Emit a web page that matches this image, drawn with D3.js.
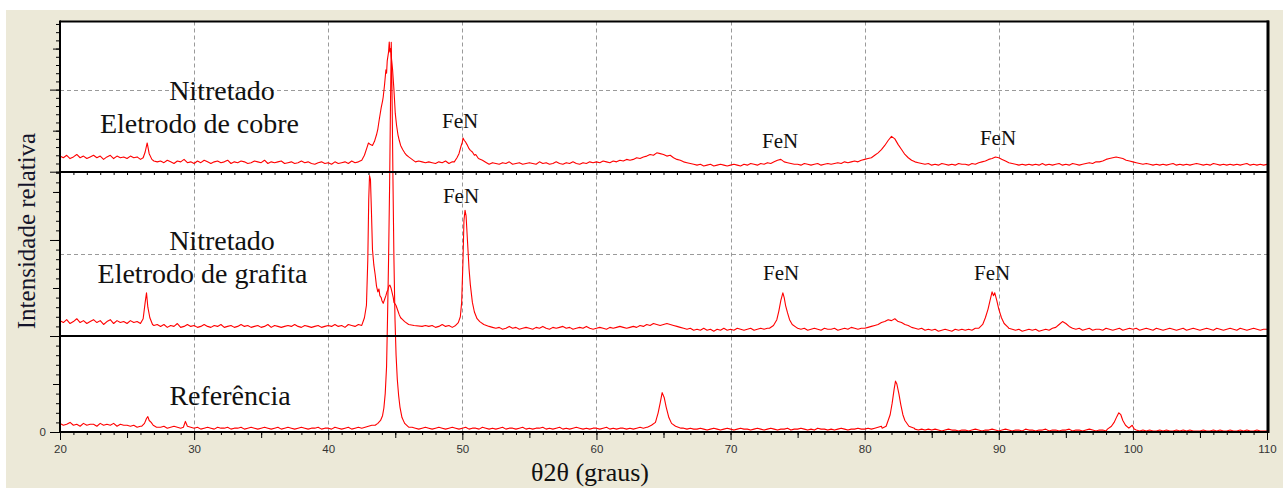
<!DOCTYPE html>
<html>
<head>
<meta charset="utf-8">
<script src="https://cdn.jsdelivr.net/npm/d3@7"></script>
<style>
  body { margin: 0; background: #fff; }
  svg { display: block; }
</style>
</head>
<body>
<div id="chart"></div>
<script>
// 2theta grid of the baseline arrays: 20.00 -> 110.00, every 0.25 deg (10 values per row)
var thetaStart = 20, thetaStep = 0.25;

// Nitretado - eletrodo de cobre (top)
var cobreBase = [
  19,17,20,16,18,21,17,19,16,18,
  20,17,19,15,18,20,16,19,17,18,
  16,19,17,18,15,17,22,14,13,12,
  13,11,14,12,10,13,12,15,11,12,
  10,13,11,14,12,10,12,13,11,12,
  14,10,12,11,13,12,10,11,13,12,
  11,14,10,12,11,12,13,10,11,12,
  10,11,13,11,12,10,9,11,12,10,
  11,9,12,10,11,12,10,13,11,12,
  14,30,35,38,60,100,140,120,60,35,
  25,20,16,14,13,12,11,13,12,11,
  12,11,10,12,11,13,10,12,30,40,
  38,28,22,16,13,11,10,12,9,11,
  10,9,11,10,12,9,10,11,9,10,
  11,10,9,12,10,11,9,10,12,10,
  9,11,10,12,10,9,11,10,12,11,
  12,11,13,12,11,13,12,14,13,15,
  14,15,17,16,18,19,21,20,23,22,
  21,19,20,17,15,14,12,11,10,9,
  8,9,7,8,9,7,8,9,8,7,
  8,9,8,7,9,8,10,9,8,10,
  9,11,10,12,14,15,12,11,10,9,
  9,8,10,9,8,9,10,8,9,10,
  9,10,11,10,12,11,12,13,12,14,
  15,16,17,20,23,27,32,38,43,40,
  33,27,21,17,14,12,11,10,9,10,
  8,9,8,10,9,8,9,8,10,9,
  9,8,10,9,11,12,13,15,16,18,
  17,15,13,11,10,9,8,9,8,9,
  8,9,8,10,8,9,8,9,10,8,
  9,8,10,9,8,9,10,11,10,12,
  12,13,15,16,17,18,17,16,14,13,
  12,11,10,9,10,9,8,9,8,9,
  8,9,10,8,9,8,9,8,9,10,
  9,8,9,8,10,9,8,9,8,9,
  8,9,8,9,10,8,9,8,9,8,
  9
];
var cobrePeaks = [
  [[26.2,17],[26.35,24],[26.5,35],[26.65,22],[26.85,15]],
  [[42.5,14],[42.7,20],[42.9,30],[43.0,35],[43.15,33],[43.3,32],[43.45,37],[43.6,45],[43.7,52],[43.8,63],
   [43.95,78],[44.05,86],[44.1,91],[44.2,106],[44.3,124],[44.35,120],[44.4,135],[44.5,146],[44.55,158],[44.6,146],
   [44.65,150],[44.7,140],[44.8,124],[44.9,100],[45.0,71],[45.1,56],[45.2,45],[45.3,38],[45.4,32],[45.55,27],
   [45.7,23],[45.85,20],[46.0,18],[46.25,15],[46.5,12]],
  [[49.4,12],[49.6,17],[49.75,22],[49.9,31],[50.0,36],[50.05,41],[50.15,38],[50.25,36],[50.35,33],[50.5,28],
   [50.6,26],[50.75,24],[50.9,20],[51.0,21],[51.2,16],[51.5,14],[51.8,11]]
];

// Nitretado - eletrodo de grafita (middle)
var grafitaBase = [
  16,14,17,13,15,18,14,16,13,15,
  17,14,16,12,15,17,13,16,14,15,
  13,16,14,15,12,13,20,14,11,12,
  10,12,9,11,10,13,9,10,12,10,
  11,9,10,12,10,9,11,10,12,9,
  10,11,9,10,12,10,11,9,10,11,
  9,10,12,9,11,10,9,10,11,10,
  12,10,9,11,10,9,10,11,9,10,
  11,10,12,10,11,9,12,11,10,12,
  13,30,160,70,50,40,45,52,40,28,
  34,25,18,15,12,11,10,12,10,11,
  10,11,9,10,12,10,11,9,12,25,
  120,110,50,22,14,11,10,9,8,9,
  8,9,7,8,10,8,9,7,8,9,
  8,7,9,8,10,8,7,9,8,9,
  10,8,9,7,8,9,8,10,8,7,
  8,9,8,7,9,8,9,10,9,8,
  9,10,9,11,10,12,11,13,12,11,
  12,13,12,11,10,9,8,7,8,6,
  7,6,8,6,7,5,7,6,8,6,
  7,6,8,7,6,7,8,6,7,8,
  7,8,9,12,25,45,28,14,9,8,
  8,7,8,6,7,8,7,6,8,7,
  7,8,6,7,8,7,9,8,7,8,
  8,9,10,11,12,14,15,17,16,18,
  15,14,12,11,9,8,7,8,6,7,
  6,7,5,6,7,6,5,7,6,7,
  6,7,6,8,9,15,30,45,40,30,
  25,15,10,8,7,6,7,5,6,7,
  6,7,5,6,7,6,8,9,12,15,
  13,10,8,7,8,6,7,8,6,7,
  7,6,8,7,6,7,8,6,7,8,
  7,8,6,7,8,7,6,8,7,6,
  7,8,7,6,7,8,6,7,8,7,
  6,7,8,7,6,8,7,6,7,8,
  7,6,8,7,6,7,8,7,6,7,
  7
];
var grafitaPeaks = [
  [[26.0,13],[26.2,18],[26.35,35],[26.45,45],[26.55,30],[26.7,19],[26.9,12]],
  [[42.5,11],[42.7,19],[42.85,32],[42.95,79],[43.02,142],[43.08,167],[43.15,163],[43.22,131],[43.3,90],[43.4,74],
   [43.5,64],[43.6,52],[43.7,46],[43.78,49],[43.85,42],[43.95,40],[44.0,37],[44.1,34],[44.2,38],[44.3,42],
   [44.38,46],[44.45,48],[44.52,52],[44.6,53],[44.68,50],[44.75,46],[44.85,40],[44.9,35],[45.05,32],[45.2,26],
   [45.3,22],[45.4,19],[45.55,17],[45.7,15],[46.0,12],[46.4,11],[47.0,10]],
  [[49.5,11],[49.7,14],[49.85,20],[49.95,35],[50.05,79],[50.12,120],[50.2,131],[50.28,125],[50.38,100],[50.5,70],
   [50.6,53],[50.75,35],[50.9,25],[51.1,18],[51.3,15],[51.6,12],[52.0,10]],
  [[72.9,8],[73.2,11],[73.45,17],[73.6,26],[73.75,37],[73.9,45],[74.0,40],[74.1,32],[74.25,24],[74.4,17],
   [74.6,12],[74.9,9]],
  [[88.5,8],[88.8,12],[89.0,19],[89.2,28],[89.35,37],[89.5,46],[89.6,42],[89.7,45],[89.85,37],[90.0,28],
   [90.2,19],[90.4,13],[90.7,9]]
];

// Referencia (bottom)
var refBase = [
  9,7,8,10,7,8,6,9,7,8,
  8,6,9,7,8,7,9,6,8,7,
  7,6,7,5,6,7,14,8,6,5,
  5,6,4,5,6,5,4,6,10,5,
  4,5,3,4,5,4,3,5,4,4,
  5,3,4,4,5,3,4,5,4,3,
  4,5,4,3,4,5,3,4,5,4,
  3,4,5,4,3,4,4,5,3,4,
  4,3,5,4,3,4,5,3,4,5,
  4,5,6,7,12,40,400,45,12,6,
  20,8,6,5,4,5,4,3,4,5,
  4,3,4,5,4,3,4,5,4,3,
  4,5,3,4,4,3,5,4,3,4,
  3,4,5,3,4,4,3,4,5,3,
  4,3,4,4,5,3,4,3,4,5,
  3,4,3,4,5,4,3,4,3,4,
  4,3,4,5,3,4,3,4,4,3,
  4,3,4,5,4,5,5,7,10,25,
  38,28,15,8,6,5,4,3,4,3,
  3,4,3,2,3,4,3,2,3,4,
  3,2,3,4,3,3,2,3,4,3,
  2,3,4,3,2,3,3,4,2,3,
  3,4,3,2,3,2,4,3,3,2,
  3,2,3,4,3,2,3,3,4,3,
  3,4,3,4,5,6,8,15,35,53,
  45,25,10,6,4,3,2,3,2,3,
  2,3,2,1,2,3,2,2,1,2,
  2,1,2,3,2,1,2,2,3,2,
  1,2,3,2,1,2,2,1,3,2,
  2,1,2,2,3,1,2,2,1,2,
  2,3,1,2,2,1,2,3,2,1,
  2,2,1,3,4,8,15,20,12,5,
  6,2,1,2,1,2,1,1,2,1,
  2,1,1,2,1,2,1,2,1,1,
  1,2,1,1,2,1,2,1,1,2,
  1,1,2,1,2,1,1,2,1,1,
  1
];
var refPeaks = [
  [[26.1,6],[26.3,9],[26.45,14],[26.55,16],[26.65,12],[26.8,10],[26.95,7],[27.2,5]],
  [[29.2,5],[29.35,11],[29.5,6]],
  [[43.5,7],[43.7,9],[43.9,12],[44.05,17],[44.15,25],[44.25,40],[44.35,68],[44.42,117],[44.5,180],[44.58,260],
   [44.65,350],[44.7,406],[44.76,350],[44.83,260],[44.9,180],[44.98,117],[45.06,80],[45.15,55],[45.25,38],[45.35,26],
   [45.5,15],[45.7,9],[46.0,5]],
  [[63.8,5],[64.1,7],[64.4,10],[64.6,20],[64.75,30],[64.9,41],[65.05,36],[65.2,26],[65.4,15],[65.6,9],
   [65.9,6],[66.3,4]],
  [[81.3,4],[81.6,6],[81.9,18],[82.05,30],[82.2,45],[82.3,53],[82.4,50],[82.55,40],[82.7,28],[82.85,18],
   [83.0,12],[83.3,6],[83.7,4]],
  [[98.1,3],[98.4,6],[98.6,10],[98.8,16],[98.95,20],[99.1,18],[99.25,12],[99.45,7],[99.7,4],[99.95,7],[100.1,3]]
];

var xTicksMajor = [20, 30, 40, 50, 60, 70, 80, 90, 100, 110];
var xGrid = [30, 40, 50, 60, 70, 80, 90, 100];

// FeN marks: [2theta, counts] in the panel they belong to
var fenCobre = [[49.83, 53], [73.69, 29], [89.94, 33]];
var fenGrafita = [[49.9, 139], [73.77, 58], [89.5, 58]];

// merge baseline grid with the hand-read peak profiles
function buildSeries(base, peaks) {
  var ranges = peaks.map(function (p) { return [p[0][0], p[p.length - 1][0]]; });
  var pts = base.map(function (v, i) { return [thetaStart + i * thetaStep, v]; })
    .filter(function (d) {
      return !ranges.some(function (r) { return d[0] >= r[0] && d[0] <= r[1]; });
    });
  peaks.forEach(function (p) { pts = pts.concat(p); });
  return pts.sort(function (a, b) { return a[0] - b[0]; });
}

var W = 1283, H = 488;
var pL = 60, pR = 1267, pT = 21.5, pB = 432;

var svg = d3.select("#chart").append("svg")
  .attr("width", W).attr("height", H)
  .style("font-family", "'Liberation Serif', 'Times New Roman', serif");

// window background
svg.append("rect").attr("x", 6).attr("y", 10).attr("width", W - 6).attr("height", H - 10)
  .attr("fill", "#ECE9D8");
svg.append("rect").attr("x", pL).attr("y", pT).attr("width", pR - pL).attr("height", pB - pT)
  .attr("fill", "#fff");

var x = d3.scaleLinear().domain([20, 110]).range([pL, pR]);

var panels = [
  { base: cobreBase, peaks: cobrePeaks, max: 180, grid: 100, label0: false,
    y: d3.scaleLinear().domain([0, 183]).range([171.7, pT]) },
  { base: grafitaBase, peaks: grafitaPeaks, max: 170, grid: 85, label0: false,
    y: d3.scaleLinear().domain([0, 171]).range([336, 171.8]) },
  { base: refBase, peaks: refPeaks, max: 100, grid: null, label0: true,
    y: d3.scaleLinear().domain([0, 100]).range([pB, 336]) }
];

svg.append("clipPath").attr("id", "plotclip").append("rect")
  .attr("x", pL).attr("y", pT).attr("width", pR - pL).attr("height", pB - pT);

// dashed grid
var grid = svg.append("g").attr("stroke", "#9a9a9a").attr("stroke-width", 1)
  .attr("stroke-dasharray", "4,3");
grid.selectAll("line.v").data(xGrid).enter().append("line")
  .attr("x1", function (d) { return Math.round(x(d)) + 0.5; })
  .attr("x2", function (d) { return Math.round(x(d)) + 0.5; })
  .attr("y1", pT).attr("y2", pB);
panels.forEach(function (p) {
  if (p.grid == null) return;
  grid.append("line")
    .attr("x1", pL).attr("x2", pR)
    .attr("y1", Math.round(p.y(p.grid)) + 0.5).attr("y2", Math.round(p.y(p.grid)) + 0.5);
});

// traces
var traces = svg.append("g").attr("clip-path", "url(#plotclip)");
panels.forEach(function (p) {
  var data = buildSeries(p.base, p.peaks);
  var line = d3.line()
    .x(function (d) { return x(d[0]); })
    .y(function (d) { return p.y(d[1]); });
  traces.append("path")
    .datum(data)
    .attr("d", line)
    .attr("fill", "none")
    .attr("stroke", "#ff0000")
    .attr("stroke-width", 1.1)
    .attr("stroke-linejoin", "round");
});

// y axes, one per panel: minor / medium / major ticks
panels.forEach(function (p) {
  var minor = d3.range(0, p.max + 1, 10);
  var medium = minor.filter(function (v) { return v % 50 === 0 && v % 100 !== 0; });
  var major = minor.filter(function (v) { return v % 100 === 0; });
  [[minor, 4], [medium, 7], [major, 10]].forEach(function (t) {
    var g = svg.append("g").attr("transform", "translate(" + pL + ",0)")
      .call(d3.axisLeft(p.y).tickValues(t[0]).tickSize(t[1]).tickPadding(4)
        .tickFormat(function (v) { return (p.label0 && t[1] === 10 && v === 0) ? "0" : ""; }));
    g.select(".domain").remove();
    g.selectAll("line").attr("stroke", "#000");
    g.selectAll("text").style("font-family", "'Liberation Sans', Arial, sans-serif")
      .style("font-size", "11.5px").attr("fill", "#333");
  });
});

// x axis
[[d3.range(20, 111, 1), 3, false], [d3.range(25, 110, 10), 6, false], [xTicksMajor, 8, true]].forEach(function (t) {
  var g = svg.append("g").attr("transform", "translate(0," + pB + ")")
    .call(d3.axisBottom(x).tickValues(t[0]).tickSize(t[1]).tickPadding(5)
      .tickFormat(t[2] ? d3.format("d") : function () { return ""; }));
  g.select(".domain").remove();
  g.selectAll("line").attr("stroke", "#000");
  g.selectAll("text").style("font-family", "'Liberation Sans', Arial, sans-serif")
    .style("font-size", "11.5px").attr("fill", "#333");
});

// small ticks under the top panel
svg.append("g").attr("transform", "translate(0,172)")
  .call(d3.axisBottom(x).tickValues(d3.range(20, 111, 1)).tickSize(3).tickFormat(""))
  .call(function (g) { g.select(".domain").remove(); g.selectAll("line").attr("stroke", "#000"); });

// frame and panel dividers
var frame = svg.append("g").attr("stroke", "#000").attr("fill", "none");
frame.append("line").attr("x1", pL).attr("x2", pR + 2).attr("y1", pT).attr("y2", pT).attr("stroke-width", 2);
frame.append("line").attr("x1", pL).attr("x2", pL).attr("y1", pT - 1).attr("y2", pB + 1).attr("stroke-width", 2);
frame.append("line").attr("x1", pR + 1).attr("x2", pR + 1).attr("y1", pT - 1).attr("y2", pB + 1).attr("stroke-width", 3);
[172, 336, pB].forEach(function (yy) {
  frame.append("line").attr("x1", pL).attr("x2", pR).attr("y1", yy).attr("y2", yy).attr("stroke-width", 2);
});

// panel labels
var labels = svg.append("g").attr("fill", "#111").style("font-size", "28px").attr("text-anchor", "middle");
labels.append("text").attr("x", 222).attr("y", 100).text("Nitretado");
labels.append("text").attr("x", 199.5).attr("y", 133).text("Eletrodo de cobre");
labels.append("text").attr("x", 222).attr("y", 250).text("Nitretado");
labels.append("text").attr("x", 202.5).attr("y", 283).text("Eletrodo de grafita");
labels.append("text").attr("x", 230).attr("y", 405).text("Referência");

// FeN marks
var fen = svg.append("g").attr("fill", "#111").style("font-size", "21px").attr("text-anchor", "middle");
fenCobre.forEach(function (d) {
  fen.append("text").attr("x", x(d[0])).attr("y", panels[0].y(d[1])).text("FeN");
});
fenGrafita.forEach(function (d) {
  fen.append("text").attr("x", x(d[0])).attr("y", panels[1].y(d[1])).text("FeN");
});

// axis titles
svg.append("text")
  .attr("transform", "translate(35,231) rotate(-90)")
  .attr("text-anchor", "middle")
  .attr("fill", "#14142a")
  .style("font-size", "25px")
  .text("Intensidade relativa");

svg.append("text")
  .attr("x", 590).attr("y", 481)
  .attr("text-anchor", "middle")
  .attr("fill", "#111")
  .style("font-size", "26px")
  .text("θ2θ (graus)");
</script>
</body>
</html>
